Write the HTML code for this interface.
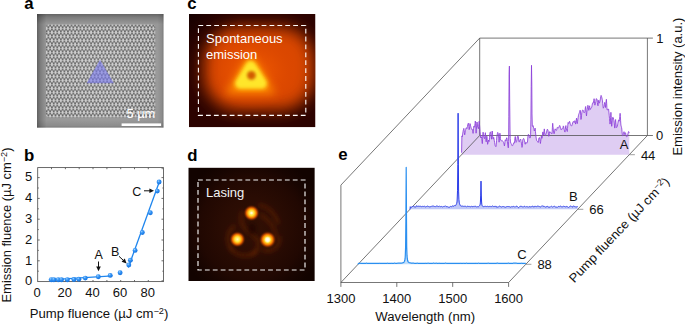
<!DOCTYPE html>
<html><head><meta charset="utf-8"><title>Figure</title>
<style>
html,body{margin:0;padding:0;background:#fff;}
svg{display:block}
text{font-family:"Liberation Sans", Arial, Helvetica, sans-serif;}
</style></head><body>
<svg width="685" height="324" viewBox="0 0 685 324">
<defs>
<pattern id="holes" x="46.6" y="25.6" width="3.56" height="8" patternUnits="userSpaceOnUse">
<rect width="3.56" height="8" fill="#cccccc"/>
<g fill="#080808">
<circle cx="0" cy="0" r="0.8"/><circle cx="3.56" cy="0" r="0.8"/><circle cx="1.78" cy="1.5" r="0.8"/>
<circle cx="1.78" cy="4" r="0.8"/><circle cx="0" cy="5.5" r="0.8"/><circle cx="3.56" cy="5.5" r="0.8"/>
<circle cx="0" cy="8" r="0.8"/><circle cx="3.56" cy="8" r="0.8"/>
</g>
</pattern>
<linearGradient id="semH" x1="0" x2="1" y1="0" y2="0">
<stop offset="0" stop-color="#000" stop-opacity="0.36"/><stop offset="0.025" stop-color="#000" stop-opacity="0.2"/>
<stop offset="0.075" stop-color="#000" stop-opacity="0"/><stop offset="0.95" stop-color="#000" stop-opacity="0"/>
<stop offset="0.985" stop-color="#000" stop-opacity="0.08"/><stop offset="1" stop-color="#000" stop-opacity="0.22"/>
</linearGradient>
<linearGradient id="semV" x1="0" x2="0" y1="0" y2="1">
<stop offset="0" stop-color="#000" stop-opacity="0.34"/><stop offset="0.03" stop-color="#000" stop-opacity="0.18"/>
<stop offset="0.09" stop-color="#000" stop-opacity="0"/><stop offset="0.93" stop-color="#000" stop-opacity="0"/>
<stop offset="0.98" stop-color="#000" stop-opacity="0.08"/><stop offset="1" stop-color="#000" stop-opacity="0.2"/>
</linearGradient>
<radialGradient id="semC" cx="0.5" cy="0.5" r="0.6">
<stop offset="0" stop-color="#fff" stop-opacity="0.08"/><stop offset="1" stop-color="#fff" stop-opacity="0"/>
</radialGradient>
<filter id="b05" x="-10%" y="-10%" width="120%" height="120%"><feGaussianBlur stdDeviation="0.3"/></filter>
<filter id="b1" x="-30%" y="-30%" width="160%" height="160%"><feGaussianBlur stdDeviation="1.2"/></filter>
<filter id="b15" x="-50%" y="-50%" width="200%" height="200%"><feGaussianBlur stdDeviation="1.6"/></filter>
<filter id="bc8" filterUnits="userSpaceOnUse" x="160" y="-10" width="190" height="170"><feGaussianBlur stdDeviation="8"/></filter>
<radialGradient id="heatC2"><stop offset="0" stop-color="#ff6a00" stop-opacity="0.75"/><stop offset="0.5" stop-color="#f05800" stop-opacity="0.4"/><stop offset="1" stop-color="#e04800" stop-opacity="0"/></radialGradient>
<filter id="b2" x="-50%" y="-50%" width="200%" height="200%"><feGaussianBlur stdDeviation="2.2"/></filter>
<filter id="b4" x="-50%" y="-50%" width="200%" height="200%"><feGaussianBlur stdDeviation="4.5"/></filter>
<filter id="b8" x="-50%" y="-50%" width="200%" height="200%"><feGaussianBlur stdDeviation="9"/></filter>
<radialGradient id="heatC" gradientUnits="userSpaceOnUse" cx="252" cy="76" r="80" gradientTransform="translate(252 76) scale(1 0.88) translate(-252 -76)">
<stop offset="0" stop-color="#f86000"/><stop offset="0.22" stop-color="#e64a00"/><stop offset="0.45" stop-color="#c43200"/>
<stop offset="0.65" stop-color="#981c00"/><stop offset="0.82" stop-color="#5e0c00"/><stop offset="1" stop-color="#2a0300"/>
</radialGradient>
<linearGradient id="heatCtl" gradientUnits="userSpaceOnUse" x1="189" y1="14" x2="220" y2="42">
<stop offset="0" stop-color="#100000" stop-opacity="0.8"/><stop offset="0.5" stop-color="#100000" stop-opacity="0.2"/><stop offset="1" stop-color="#100000" stop-opacity="0"/>
</linearGradient>
<radialGradient id="heatD" gradientUnits="userSpaceOnUse" cx="252" cy="228" r="74">
<stop offset="0" stop-color="#321004"/><stop offset="0.4" stop-color="#2a0c03"/><stop offset="0.7" stop-color="#210802"/><stop offset="0.85" stop-color="#180501"/><stop offset="1" stop-color="#120300"/>
</radialGradient>
<radialGradient id="spot">
<stop offset="0" stop-color="#fffab8"/><stop offset="0.3" stop-color="#ffe23c"/><stop offset="0.44" stop-color="#ffac10"/>
<stop offset="0.58" stop-color="#e86c00"/><stop offset="0.72" stop-color="#a83c00" stop-opacity="0.8"/><stop offset="0.87" stop-color="#5a1c00" stop-opacity="0.4"/><stop offset="1" stop-color="#3a1000" stop-opacity="0"/>
</radialGradient>
<radialGradient id="spotw">
<stop offset="0" stop-color="#ffffff"/><stop offset="0.5" stop-color="#fffbd0"/><stop offset="1" stop-color="#fff0a0" stop-opacity="0"/>
</radialGradient>
<radialGradient id="ball" cx="0.38" cy="0.32" r="0.7">
<stop offset="0" stop-color="#9fd0ff"/><stop offset="0.35" stop-color="#3a98f5"/><stop offset="1" stop-color="#0f6fe0"/>
</radialGradient>
<clipPath id="clipA"><rect x="37" y="14" width="126.7" height="113.8"/></clipPath>
<clipPath id="clipC"><rect x="189" y="14" width="126.5" height="113.3"/></clipPath>
<clipPath id="clipD"><rect x="188.3" y="167.6" width="126.5" height="113.4"/></clipPath>
</defs>
<rect width="685" height="324" fill="#fff"/>

<text x="24.3" y="8.9" font-size="16.8" font-weight="bold" fill="#000">a</text>
<text x="187.2" y="8.8" font-size="16.8" font-weight="bold" fill="#000">c</text>
<text x="24.0" y="161.0" font-size="16.8" font-weight="bold" fill="#000">b</text>
<text x="187.2" y="160.9" font-size="16.8" font-weight="bold" fill="#000">d</text>
<text x="338.3" y="159.5" font-size="16.8" font-weight="bold" fill="#000">e</text>
<g clip-path="url(#clipA)">
<rect x="37" y="14" width="126.7" height="113.8" fill="#989898"/>
<rect x="46.0" y="24.4" width="109.2" height="92.8" rx="3" fill="url(#holes)" filter="url(#b05)"/>
<polygon points="100,59.7 86.6,83.3 113.9,83.3" fill="#6c6cf2" fill-opacity="0.58"/>
<rect x="37" y="14" width="126.7" height="113.8" fill="url(#semC)"/>
<rect x="37" y="14" width="126.7" height="113.8" fill="url(#semH)"/>
<rect x="37" y="14" width="126.7" height="113.8" fill="url(#semV)"/>
<rect x="121.6" y="123.4" width="39.5" height="2.6" fill="#fff"/>
<text x="126.4" y="117.9" font-size="13.2" fill="#fff" textLength="29" lengthAdjust="spacingAndGlyphs">5 µm</text>
</g>
<g clip-path="url(#clipC)">
<rect x="189" y="14" width="126.5" height="113.3" fill="#2c0300"/>
<rect x="204" y="27" width="110" height="83" rx="34" fill="#da4600" filter="url(#bc8)"/>
<ellipse cx="252" cy="72" rx="46" ry="38" fill="url(#heatC2)"/>
<rect x="189" y="14" width="126.5" height="113.3" fill="url(#heatCtl)"/>
<polygon points="250.5,53 225,94 276,94" fill="#ff8a00" filter="url(#b4)" opacity="0.9"/>
<polygon points="250.7,66 240.3,83.6 261.7,83.6" fill="#ffd21a" stroke="#ffd21a" stroke-width="11.5" stroke-linejoin="round" filter="url(#b2)"/>
<polygon points="250.7,66.5 240.8,83.2 261.2,83.2" fill="#ffe62c" stroke="#ffe62c" stroke-width="8" stroke-linejoin="round" filter="url(#b15)"/>
<circle cx="251.4" cy="75.3" r="4.4" fill="#d25c00" filter="url(#b15)"/>
</g>
<rect x="198.4" y="25.5" width="107.4" height="89.9" fill="none" stroke="#fff" stroke-width="1.1" stroke-dasharray="4.8 3.1"/>
<text x="206" y="42.8" font-size="13" fill="#fff">Spontaneous</text>
<text x="206" y="58.8" font-size="13" fill="#fff">emission</text>
<g clip-path="url(#clipD)">
<rect x="188.3" y="167.6" width="126.5" height="113.4" fill="url(#heatD)"/>
<g fill="none" stroke="#7a2c04" stroke-opacity="0.5" stroke-width="3.2" filter="url(#b2)">
<path d="M243,211 C237,222 246,231 254,236 C261,241 259,251 251,255"/>
<path d="M260,214 C270,221 277,230 275,238"/>
<path d="M230,247 C235,257 249,258 257,251"/>
<path d="M262,249 C271,254 281,247 279,236"/>
<path d="M235,226 C226,231 226,245 233,250"/>
<path d="M258,205 C268,206 276,214 278,224"/>
</g>
<ellipse cx="252" cy="229" rx="4" ry="6" fill="#140300" opacity="0.6" filter="url(#b2)"/>
<circle cx="251.5" cy="213.0" r="8.6" fill="url(#spot)"/>
<circle cx="237.4" cy="239.3" r="8.6" fill="url(#spot)"/>
<circle cx="267.6" cy="239.7" r="9.2" fill="url(#spot)"/>
<circle cx="267.6" cy="239.7" r="3.4" fill="url(#spotw)"/>
<circle cx="251.5" cy="213" r="1.8" fill="url(#spotw)" opacity="0.7"/>
</g>
<rect x="198" y="180" width="107" height="90" fill="none" stroke="#f4f4f4" stroke-width="1.15" stroke-dasharray="4.8 3.1"/>
<text x="206" y="196.5" font-size="13" fill="#f2f2f2">Lasing</text>
<g stroke="#505050" stroke-width="0.85" fill="none">
<rect x="37.7" y="167.6" width="125.8" height="114.0"/>
<path d="M51.5,281.6v-1.6M51.5,167.6v1.6"/>
<path d="M65.4,281.6v-1.6M65.4,167.6v1.6"/>
<path d="M79.2,281.6v-1.6M79.2,167.6v1.6"/>
<path d="M93.0,281.6v-1.6M93.0,167.6v1.6"/>
<path d="M106.9,281.6v-1.6M106.9,167.6v1.6"/>
<path d="M120.7,281.6v-1.6M120.7,167.6v1.6"/>
<path d="M134.5,281.6v-1.6M134.5,167.6v1.6"/>
<path d="M148.3,281.6v-1.6M148.3,167.6v1.6"/>
<path d="M162.2,281.6v-1.6M162.2,167.6v1.6"/>
<path d="M37.7,271.2h1.1M163.5,271.2h-1.1"/>
<path d="M37.7,260.8h2.0M163.5,260.8h-2.0"/>
<path d="M37.7,250.4h1.1M163.5,250.4h-1.1"/>
<path d="M37.7,240.0h2.0M163.5,240.0h-2.0"/>
<path d="M37.7,229.6h1.1M163.5,229.6h-1.1"/>
<path d="M37.7,219.2h2.0M163.5,219.2h-2.0"/>
<path d="M37.7,208.8h1.1M163.5,208.8h-1.1"/>
<path d="M37.7,198.4h2.0M163.5,198.4h-2.0"/>
<path d="M37.7,188.0h1.1M163.5,188.0h-1.1"/>
<path d="M37.7,177.6h2.0M163.5,177.6h-2.0"/>
</g>
<text x="32.3" y="285.4" font-size="13" text-anchor="end" fill="#111">0</text>
<text x="32.3" y="264.6" font-size="13" text-anchor="end" fill="#111">1</text>
<text x="32.3" y="243.8" font-size="13" text-anchor="end" fill="#111">2</text>
<text x="32.3" y="223.0" font-size="13" text-anchor="end" fill="#111">3</text>
<text x="32.3" y="202.2" font-size="13" text-anchor="end" fill="#111">4</text>
<text x="32.3" y="181.4" font-size="13" text-anchor="end" fill="#111">5</text>
<text x="37.1" y="297.4" font-size="13" text-anchor="middle" fill="#111">0</text>
<text x="64.8" y="297.4" font-size="13" text-anchor="middle" fill="#111">20</text>
<text x="92.4" y="297.4" font-size="13" text-anchor="middle" fill="#111">40</text>
<text x="120.1" y="297.4" font-size="13" text-anchor="middle" fill="#111">60</text>
<text x="147.7" y="297.4" font-size="13" text-anchor="middle" fill="#111">80</text>
<text x="29.8" y="318.1" font-size="12.5" fill="#111" textLength="138.6" lengthAdjust="spacingAndGlyphs">Pump fluence (µJ cm<tspan dy="-4.2" font-size="8.8">−2</tspan><tspan dy="4.2">)</tspan></text>
<text transform="translate(11.0,302.5) rotate(-90)" font-size="12.5" fill="#111" textLength="155" lengthAdjust="spacingAndGlyphs">Emission fluence (µJ cm<tspan dy="-4.2" font-size="8.8">−2</tspan><tspan dy="4.2">)</tspan></text>
<path d="M48.8,279.9L112.4,275.8" stroke="#1f86ee" stroke-width="1.3" fill="none"/>
<path d="M128.3,267.5L159.7,180.7" stroke="#1f86ee" stroke-width="1.3" fill="none"/>
<circle cx="51.3" cy="279.7" r="2.45" fill="url(#ball)"/>
<circle cx="53.9" cy="279.7" r="2.45" fill="url(#ball)"/>
<circle cx="58.2" cy="279.7" r="2.45" fill="url(#ball)"/>
<circle cx="61.5" cy="279.7" r="2.45" fill="url(#ball)"/>
<circle cx="67.4" cy="279.7" r="2.45" fill="url(#ball)"/>
<circle cx="73.9" cy="279.5" r="2.45" fill="url(#ball)"/>
<circle cx="78.8" cy="279.3" r="2.45" fill="url(#ball)"/>
<circle cx="85.3" cy="278.1" r="2.45" fill="url(#ball)"/>
<circle cx="98.3" cy="276.8" r="2.45" fill="url(#ball)"/>
<circle cx="110.2" cy="275.4" r="2.45" fill="url(#ball)"/>
<circle cx="120.1" cy="272.7" r="2.45" fill="url(#ball)"/>
<circle cx="128.8" cy="265.0" r="2.45" fill="url(#ball)"/>
<circle cx="130.4" cy="260.2" r="2.45" fill="url(#ball)"/>
<circle cx="135.1" cy="250.4" r="2.45" fill="url(#ball)"/>
<circle cx="142.3" cy="232.5" r="2.45" fill="url(#ball)"/>
<circle cx="150.3" cy="212.8" r="2.45" fill="url(#ball)"/>
<circle cx="157.3" cy="191.1" r="2.45" fill="url(#ball)"/>
<circle cx="159.1" cy="182.0" r="2.45" fill="url(#ball)"/>
<text x="132.3" y="195.6" font-size="12.5" fill="#111">C</text>
<path d="M144,190.8H150.5" stroke="#111" stroke-width="1" fill="none"/><path d="M154,190.8l-4.6,-2.3v4.6z" fill="#111"/>
<text x="94.4" y="259.4" font-size="12.5" fill="#111">A</text>
<path d="M98.5,261.5V267.5" stroke="#111" stroke-width="1" fill="none"/><path d="M98.5,271.2l-2.3,-4.6h4.6z" fill="#111"/>
<text x="111" y="256" font-size="12.5" fill="#111">B</text>
<path d="M119,256.3L123.3,260.3" stroke="#111" stroke-width="1" fill="none"/><path d="M126.6,263.4l-5,-1.6l3.2,-3.4z" fill="#111"/>
<polygon points="461.6,154.7 461.6,152.7 461.9,135.9 462.2,136.8 462.4,136.5 462.7,134.0 463.0,131.7 463.3,130.2 463.6,129.3 463.8,128.4 464.1,130.1 464.4,132.6 464.7,134.8 465.0,133.4 465.2,131.9 465.5,130.5 465.8,129.2 466.1,128.0 466.4,127.7 466.6,128.2 466.9,128.7 467.2,127.7 467.5,126.3 467.7,124.9 468.0,124.0 468.3,123.1 468.6,123.5 468.9,126.6 469.1,129.7 469.4,129.2 469.7,126.4 470.0,123.6 470.3,124.3 470.5,125.5 470.8,126.7 471.1,127.7 471.4,128.7 471.7,129.3 471.9,129.2 472.2,129.2 472.5,130.2 472.8,131.8 473.1,133.4 473.3,131.0 473.6,128.3 473.9,126.1 474.2,126.6 474.5,127.2 474.7,126.4 475.0,123.8 475.3,121.1 475.6,123.6 475.9,128.4 476.1,133.2 476.4,129.4 476.7,125.1 477.0,122.0 477.3,124.0 477.5,126.0 477.8,127.4 478.1,128.1 478.4,128.8 478.6,126.6 478.9,123.7 479.2,121.2 479.5,124.7 479.8,128.3 480.0,131.6 480.3,134.3 480.6,137.0 480.9,138.0 481.2,137.3 481.4,136.7 481.7,138.5 482.0,141.2 482.3,143.6 482.6,139.2 482.8,134.8 483.1,132.2 483.4,134.3 483.7,136.3 484.0,137.5 484.2,138.1 484.5,138.7 484.8,137.0 485.1,134.6 485.4,132.7 485.6,136.5 485.9,140.2 486.2,141.8 486.5,139.0 486.8,136.1 487.0,137.1 487.3,140.7 487.6,144.3 487.9,143.3 488.2,141.5 488.4,140.0 488.7,140.9 489.0,141.7 489.3,140.9 489.5,137.4 489.8,133.9 490.1,132.4 490.4,132.1 490.7,131.8 490.9,134.3 491.2,137.3 491.5,139.2 491.8,135.4 492.1,131.7 492.3,131.0 492.6,134.8 492.9,138.5 493.2,139.1 493.5,138.2 493.7,137.3 494.0,138.9 494.3,140.8 494.6,142.6 494.9,144.0 495.1,145.4 495.4,146.2 495.7,146.5 496.0,146.7 496.3,144.2 496.5,140.6 496.8,137.0 497.1,135.3 497.4,133.6 497.7,132.4 497.9,132.9 498.2,133.4 498.5,135.3 498.8,138.8 499.1,142.2 499.3,140.3 499.6,136.7 499.9,133.2 500.2,135.8 500.5,138.4 500.7,140.3 501.0,140.5 501.3,140.7 501.6,140.7 501.8,140.5 502.1,140.3 502.4,140.7 502.7,141.2 503.0,141.7 503.2,142.0 503.5,142.2 503.8,142.9 504.1,144.4 504.4,145.9 504.6,145.1 504.9,142.5 505.2,139.8 505.5,139.9 505.8,140.4 506.0,140.8 506.3,139.3 506.6,137.9 506.9,137.7 507.2,139.8 507.4,141.9 507.7,144.0 508.0,146.1 508.3,147.8 508.6,141.5 508.8,116.8 509.1,74.3 509.4,66.1 509.7,101.9 510.0,129.0 510.2,138.4 510.5,141.9 510.8,143.1 511.1,143.5 511.4,143.9 511.6,144.6 511.9,145.3 512.2,145.9 512.5,145.7 512.7,145.5 513.0,144.9 513.3,143.9 513.6,142.9 513.9,142.8 514.1,142.9 514.4,143.1 514.7,140.6 515.0,138.0 515.3,136.5 515.5,139.0 515.8,141.4 516.1,142.4 516.4,141.9 516.7,141.3 516.9,139.9 517.2,138.1 517.5,136.3 517.8,136.2 518.1,136.1 518.3,136.7 518.6,139.0 518.9,141.3 519.2,142.1 519.5,141.4 519.7,140.6 520.0,140.0 520.3,139.5 520.6,139.0 520.9,140.3 521.1,141.6 521.4,143.1 521.7,145.2 522.0,147.4 522.3,146.5 522.5,143.2 522.8,139.9 523.1,139.1 523.4,138.7 523.6,138.4 523.9,139.0 524.2,139.6 524.5,140.6 524.8,142.4 525.0,144.1 525.3,144.2 525.6,143.2 525.9,142.2 526.2,142.5 526.4,142.9 526.7,143.3 527.0,142.9 527.3,142.4 527.6,141.0 527.8,138.0 528.1,135.1 528.4,134.3 528.7,134.7 529.0,135.1 529.2,136.1 529.5,137.2 529.8,138.1 530.1,138.0 530.4,137.5 530.6,134.2 530.9,119.1 531.2,86.5 531.5,65.3 531.8,84.1 532.0,113.9 532.3,125.6 532.6,126.4 532.9,125.5 533.2,125.8 533.4,127.1 533.7,128.4 534.0,129.5 534.3,131.0 534.5,130.7 534.8,129.6 535.1,128.1 535.4,131.2 535.7,133.9 535.9,136.2 536.2,138.1 536.5,139.9 536.8,140.8 537.1,141.0 537.3,141.2 537.6,141.6 537.9,142.1 538.2,142.5 538.5,140.8 538.7,139.1 539.0,137.8 539.3,137.7 539.6,137.7 539.9,139.0 540.1,141.2 540.4,143.5 540.7,141.6 541.0,138.7 541.3,136.1 541.5,137.3 541.8,138.4 542.1,138.2 542.4,135.3 542.7,132.3 542.9,131.9 543.2,133.4 543.5,134.8 543.8,133.1 544.1,130.7 544.3,128.9 544.6,131.5 544.9,134.2 545.2,135.7 545.5,135.2 545.7,134.7 546.0,133.9 546.3,133.0 546.6,132.1 546.8,131.0 547.1,129.9 547.4,129.1 547.7,129.7 548.0,130.3 548.2,131.6 548.5,133.9 548.8,136.3 549.1,135.7 549.4,133.7 549.6,131.7 549.9,131.7 550.2,131.9 550.5,132.1 550.8,132.6 551.0,133.1 551.3,133.5 551.6,133.7 551.9,134.0 552.2,131.2 552.4,127.3 552.7,123.3 553.0,126.6 553.3,130.0 553.6,132.8 553.8,133.3 554.1,133.8 554.4,133.1 554.7,131.0 555.0,128.9 555.2,128.9 555.5,129.5 555.8,130.1 556.1,130.3 556.4,130.5 556.6,130.3 556.9,129.0 557.2,127.7 557.5,127.2 557.7,127.5 558.0,127.7 558.3,127.8 558.6,127.8 558.9,127.7 559.1,126.8 559.4,125.8 559.7,125.4 560.0,126.1 560.3,126.9 560.5,127.8 560.8,128.9 561.1,129.9 561.4,129.7 561.7,129.2 561.9,128.7 562.2,128.8 562.5,128.9 562.8,128.4 563.1,127.1 563.3,125.9 563.6,126.4 563.9,128.2 564.2,129.9 564.5,130.8 564.7,131.7 565.0,132.1 565.3,129.3 565.6,126.6 565.9,125.6 566.1,127.4 566.4,129.1 566.7,130.2 567.0,130.9 567.3,131.5 567.5,128.5 567.8,125.2 568.1,122.5 568.4,122.9 568.6,123.4 568.9,123.2 569.2,122.2 569.5,121.3 569.8,121.8 570.0,123.0 570.3,124.2 570.6,124.8 570.9,125.5 571.2,125.9 571.4,125.9 571.7,125.9 572.0,125.3 572.3,124.1 572.6,123.0 572.8,122.3 573.1,121.8 573.4,121.3 573.7,121.8 574.0,122.4 574.2,122.6 574.5,121.6 574.8,120.7 575.1,121.1 575.4,122.6 575.6,124.1 575.9,122.6 576.2,120.3 576.5,118.2 576.8,120.5 577.0,122.8 577.3,123.6 577.6,121.3 577.9,119.0 578.2,117.2 578.4,115.8 578.7,114.4 579.0,113.6 579.3,112.9 579.5,112.2 579.8,111.2 580.1,110.2 580.4,111.0 580.7,115.2 580.9,119.5 581.2,119.2 581.5,115.9 581.8,112.6 582.1,111.5 582.3,110.7 582.6,110.0 582.9,110.2 583.2,110.3 583.5,110.8 583.7,111.8 584.0,112.8 584.3,112.7 584.6,112.2 584.9,111.6 585.1,109.7 585.4,107.5 585.7,106.5 586.0,110.7 586.3,114.8 586.5,115.9 586.8,112.8 587.1,109.7 587.4,107.9 587.7,106.6 587.9,105.3 588.2,107.2 588.5,109.2 588.8,110.4 589.1,108.3 589.3,106.1 589.6,105.8 589.9,107.6 590.2,109.5 590.4,109.4 590.7,108.7 591.0,108.0 591.3,107.7 591.6,107.5 591.8,106.9 592.1,105.3 592.4,103.7 592.7,102.9 593.0,103.1 593.2,103.2 593.5,102.0 593.8,100.3 594.1,98.7 594.4,101.1 594.6,103.7 594.9,105.2 595.2,104.0 595.5,102.9 595.8,101.6 596.0,100.1 596.3,98.6 596.6,98.8 596.9,99.3 597.2,99.9 597.4,102.5 597.7,105.0 598.0,105.8 598.3,103.1 598.6,100.4 598.8,100.2 599.1,101.7 599.4,103.2 599.7,102.4 600.0,101.2 600.2,100.0 600.5,98.1 600.8,96.3 601.1,95.4 601.4,96.1 601.6,96.7 601.9,97.9 602.2,99.3 602.5,100.8 602.7,103.3 603.0,106.0 603.3,108.2 603.6,107.5 603.9,107.1 604.1,106.4 604.4,104.4 604.7,102.4 605.0,103.2 605.3,105.3 605.5,107.5 605.8,104.6 606.1,101.2 606.4,99.3 606.7,103.6 606.9,107.7 607.2,110.0 607.5,109.8 607.8,109.6 608.1,109.4 608.3,109.2 608.6,109.0 608.9,112.1 609.2,115.2 609.5,118.3 609.7,121.3 610.0,124.1 610.3,122.9 610.6,117.6 610.9,112.3 611.1,115.2 611.4,120.8 611.7,126.3 612.0,123.2 612.3,120.0 612.5,117.6 612.8,117.5 613.1,117.3 613.4,118.0 613.6,119.3 613.9,120.6 614.2,123.1 614.5,125.8 614.8,128.1 615.0,124.5 615.3,120.9 615.6,119.5 615.9,122.8 616.2,126.2 616.4,127.5 616.7,127.4 617.0,127.3 617.3,126.2 617.6,124.9 617.8,123.6 618.1,122.1 618.4,120.6 618.7,119.8 619.0,120.5 619.2,121.2 619.5,119.6 619.8,116.4 620.1,113.3 620.4,116.6 620.6,120.8 620.9,125.1 621.2,126.2 621.5,127.3 621.8,129.0 622.0,131.8 622.3,134.5 622.6,135.7 622.9,135.7 623.2,134.7 623.4,133.5 623.7,132.4 624.0,131.7 624.3,133.0 624.5,134.3 624.8,134.6 625.1,133.6 625.4,132.7 625.7,133.4 625.9,134.9 626.2,136.4 626.5,136.6 626.8,136.7 627.1,136.6 627.3,135.9 627.6,135.1 627.9,134.1 628.2,132.9 628.5,131.6 628.7,131.6 629.0,132.2 629.3,132.8 629.3,154.7" fill="#d9c4f1" fill-opacity="0.85"/>
<line x1="479.7" y1="38.1" x2="647.4" y2="38.1" stroke="#4a4a4a" stroke-width="0.75"/>
<line x1="479.7" y1="38.1" x2="479.7" y2="135.5" stroke="#4a4a4a" stroke-width="0.75"/>
<line x1="479.7" y1="135.5" x2="647.4" y2="135.5" stroke="#4a4a4a" stroke-width="0.75"/>
<line x1="647.4" y1="38.1" x2="647.4" y2="135.5" stroke="#4a4a4a" stroke-width="0.75"/>
<line x1="340.9" y1="185.1" x2="479.7" y2="38.1" stroke="#4a4a4a" stroke-width="0.75"/>
<line x1="340.9" y1="185.1" x2="340.9" y2="282.5" stroke="#4a4a4a" stroke-width="0.75"/>
<line x1="340.9" y1="282.5" x2="479.7" y2="135.5" stroke="#4a4a4a" stroke-width="0.75"/>
<line x1="340.9" y1="282.5" x2="508.6" y2="282.5" stroke="#4a4a4a" stroke-width="0.75"/>
<line x1="508.6" y1="282.5" x2="647.4" y2="135.5" stroke="#4a4a4a" stroke-width="0.75"/>
<line x1="340.9" y1="282.5" x2="340.9" y2="286.9" stroke="#4a4a4a" stroke-width="0.75"/>
<text x="340.9" y="302.9" font-size="13" text-anchor="middle" fill="#111">1300</text>
<line x1="396.8" y1="282.5" x2="396.8" y2="286.9" stroke="#4a4a4a" stroke-width="0.75"/>
<text x="396.8" y="302.9" font-size="13" text-anchor="middle" fill="#111">1400</text>
<line x1="452.7" y1="282.5" x2="452.7" y2="286.9" stroke="#4a4a4a" stroke-width="0.75"/>
<text x="452.7" y="302.9" font-size="13" text-anchor="middle" fill="#111">1500</text>
<line x1="508.6" y1="282.5" x2="508.6" y2="286.9" stroke="#4a4a4a" stroke-width="0.75"/>
<text x="508.6" y="302.9" font-size="13" text-anchor="middle" fill="#111">1600</text>
<text x="375.3" y="320.9" font-size="12.5" fill="#111" textLength="99.8" lengthAdjust="spacingAndGlyphs">Wavelength (nm)</text>
<line x1="647.4" y1="38.1" x2="652.9" y2="38.1" stroke="#4a4a4a" stroke-width="0.75"/>
<line x1="647.4" y1="135.5" x2="652.9" y2="135.5" stroke="#4a4a4a" stroke-width="0.75"/>
<text x="656.2" y="42.7" font-size="13" fill="#111">1</text>
<text x="656.0" y="140.1" font-size="13" fill="#111">0</text>
<text transform="translate(681.9,155.6) rotate(-90)" font-size="12.5" fill="#111" textLength="138" lengthAdjust="spacingAndGlyphs">Emission intensity (a.u.)</text>
<polyline points="461.6,152.7 461.9,135.9 462.2,136.8 462.4,136.5 462.7,134.0 463.0,131.7 463.3,130.2 463.6,129.3 463.8,128.4 464.1,130.1 464.4,132.6 464.7,134.8 465.0,133.4 465.2,131.9 465.5,130.5 465.8,129.2 466.1,128.0 466.4,127.7 466.6,128.2 466.9,128.7 467.2,127.7 467.5,126.3 467.7,124.9 468.0,124.0 468.3,123.1 468.6,123.5 468.9,126.6 469.1,129.7 469.4,129.2 469.7,126.4 470.0,123.6 470.3,124.3 470.5,125.5 470.8,126.7 471.1,127.7 471.4,128.7 471.7,129.3 471.9,129.2 472.2,129.2 472.5,130.2 472.8,131.8 473.1,133.4 473.3,131.0 473.6,128.3 473.9,126.1 474.2,126.6 474.5,127.2 474.7,126.4 475.0,123.8 475.3,121.1 475.6,123.6 475.9,128.4 476.1,133.2 476.4,129.4 476.7,125.1 477.0,122.0 477.3,124.0 477.5,126.0 477.8,127.4 478.1,128.1 478.4,128.8 478.6,126.6 478.9,123.7 479.2,121.2 479.5,124.7 479.8,128.3 480.0,131.6 480.3,134.3 480.6,137.0 480.9,138.0 481.2,137.3 481.4,136.7 481.7,138.5 482.0,141.2 482.3,143.6 482.6,139.2 482.8,134.8 483.1,132.2 483.4,134.3 483.7,136.3 484.0,137.5 484.2,138.1 484.5,138.7 484.8,137.0 485.1,134.6 485.4,132.7 485.6,136.5 485.9,140.2 486.2,141.8 486.5,139.0 486.8,136.1 487.0,137.1 487.3,140.7 487.6,144.3 487.9,143.3 488.2,141.5 488.4,140.0 488.7,140.9 489.0,141.7 489.3,140.9 489.5,137.4 489.8,133.9 490.1,132.4 490.4,132.1 490.7,131.8 490.9,134.3 491.2,137.3 491.5,139.2 491.8,135.4 492.1,131.7 492.3,131.0 492.6,134.8 492.9,138.5 493.2,139.1 493.5,138.2 493.7,137.3 494.0,138.9 494.3,140.8 494.6,142.6 494.9,144.0 495.1,145.4 495.4,146.2 495.7,146.5 496.0,146.7 496.3,144.2 496.5,140.6 496.8,137.0 497.1,135.3 497.4,133.6 497.7,132.4 497.9,132.9 498.2,133.4 498.5,135.3 498.8,138.8 499.1,142.2 499.3,140.3 499.6,136.7 499.9,133.2 500.2,135.8 500.5,138.4 500.7,140.3 501.0,140.5 501.3,140.7 501.6,140.7 501.8,140.5 502.1,140.3 502.4,140.7 502.7,141.2 503.0,141.7 503.2,142.0 503.5,142.2 503.8,142.9 504.1,144.4 504.4,145.9 504.6,145.1 504.9,142.5 505.2,139.8 505.5,139.9 505.8,140.4 506.0,140.8 506.3,139.3 506.6,137.9 506.9,137.7 507.2,139.8 507.4,141.9 507.7,144.0 508.0,146.1 508.3,147.8 508.6,141.5 508.8,116.8 509.1,74.3 509.4,66.1 509.7,101.9 510.0,129.0 510.2,138.4 510.5,141.9 510.8,143.1 511.1,143.5 511.4,143.9 511.6,144.6 511.9,145.3 512.2,145.9 512.5,145.7 512.7,145.5 513.0,144.9 513.3,143.9 513.6,142.9 513.9,142.8 514.1,142.9 514.4,143.1 514.7,140.6 515.0,138.0 515.3,136.5 515.5,139.0 515.8,141.4 516.1,142.4 516.4,141.9 516.7,141.3 516.9,139.9 517.2,138.1 517.5,136.3 517.8,136.2 518.1,136.1 518.3,136.7 518.6,139.0 518.9,141.3 519.2,142.1 519.5,141.4 519.7,140.6 520.0,140.0 520.3,139.5 520.6,139.0 520.9,140.3 521.1,141.6 521.4,143.1 521.7,145.2 522.0,147.4 522.3,146.5 522.5,143.2 522.8,139.9 523.1,139.1 523.4,138.7 523.6,138.4 523.9,139.0 524.2,139.6 524.5,140.6 524.8,142.4 525.0,144.1 525.3,144.2 525.6,143.2 525.9,142.2 526.2,142.5 526.4,142.9 526.7,143.3 527.0,142.9 527.3,142.4 527.6,141.0 527.8,138.0 528.1,135.1 528.4,134.3 528.7,134.7 529.0,135.1 529.2,136.1 529.5,137.2 529.8,138.1 530.1,138.0 530.4,137.5 530.6,134.2 530.9,119.1 531.2,86.5 531.5,65.3 531.8,84.1 532.0,113.9 532.3,125.6 532.6,126.4 532.9,125.5 533.2,125.8 533.4,127.1 533.7,128.4 534.0,129.5 534.3,131.0 534.5,130.7 534.8,129.6 535.1,128.1 535.4,131.2 535.7,133.9 535.9,136.2 536.2,138.1 536.5,139.9 536.8,140.8 537.1,141.0 537.3,141.2 537.6,141.6 537.9,142.1 538.2,142.5 538.5,140.8 538.7,139.1 539.0,137.8 539.3,137.7 539.6,137.7 539.9,139.0 540.1,141.2 540.4,143.5 540.7,141.6 541.0,138.7 541.3,136.1 541.5,137.3 541.8,138.4 542.1,138.2 542.4,135.3 542.7,132.3 542.9,131.9 543.2,133.4 543.5,134.8 543.8,133.1 544.1,130.7 544.3,128.9 544.6,131.5 544.9,134.2 545.2,135.7 545.5,135.2 545.7,134.7 546.0,133.9 546.3,133.0 546.6,132.1 546.8,131.0 547.1,129.9 547.4,129.1 547.7,129.7 548.0,130.3 548.2,131.6 548.5,133.9 548.8,136.3 549.1,135.7 549.4,133.7 549.6,131.7 549.9,131.7 550.2,131.9 550.5,132.1 550.8,132.6 551.0,133.1 551.3,133.5 551.6,133.7 551.9,134.0 552.2,131.2 552.4,127.3 552.7,123.3 553.0,126.6 553.3,130.0 553.6,132.8 553.8,133.3 554.1,133.8 554.4,133.1 554.7,131.0 555.0,128.9 555.2,128.9 555.5,129.5 555.8,130.1 556.1,130.3 556.4,130.5 556.6,130.3 556.9,129.0 557.2,127.7 557.5,127.2 557.7,127.5 558.0,127.7 558.3,127.8 558.6,127.8 558.9,127.7 559.1,126.8 559.4,125.8 559.7,125.4 560.0,126.1 560.3,126.9 560.5,127.8 560.8,128.9 561.1,129.9 561.4,129.7 561.7,129.2 561.9,128.7 562.2,128.8 562.5,128.9 562.8,128.4 563.1,127.1 563.3,125.9 563.6,126.4 563.9,128.2 564.2,129.9 564.5,130.8 564.7,131.7 565.0,132.1 565.3,129.3 565.6,126.6 565.9,125.6 566.1,127.4 566.4,129.1 566.7,130.2 567.0,130.9 567.3,131.5 567.5,128.5 567.8,125.2 568.1,122.5 568.4,122.9 568.6,123.4 568.9,123.2 569.2,122.2 569.5,121.3 569.8,121.8 570.0,123.0 570.3,124.2 570.6,124.8 570.9,125.5 571.2,125.9 571.4,125.9 571.7,125.9 572.0,125.3 572.3,124.1 572.6,123.0 572.8,122.3 573.1,121.8 573.4,121.3 573.7,121.8 574.0,122.4 574.2,122.6 574.5,121.6 574.8,120.7 575.1,121.1 575.4,122.6 575.6,124.1 575.9,122.6 576.2,120.3 576.5,118.2 576.8,120.5 577.0,122.8 577.3,123.6 577.6,121.3 577.9,119.0 578.2,117.2 578.4,115.8 578.7,114.4 579.0,113.6 579.3,112.9 579.5,112.2 579.8,111.2 580.1,110.2 580.4,111.0 580.7,115.2 580.9,119.5 581.2,119.2 581.5,115.9 581.8,112.6 582.1,111.5 582.3,110.7 582.6,110.0 582.9,110.2 583.2,110.3 583.5,110.8 583.7,111.8 584.0,112.8 584.3,112.7 584.6,112.2 584.9,111.6 585.1,109.7 585.4,107.5 585.7,106.5 586.0,110.7 586.3,114.8 586.5,115.9 586.8,112.8 587.1,109.7 587.4,107.9 587.7,106.6 587.9,105.3 588.2,107.2 588.5,109.2 588.8,110.4 589.1,108.3 589.3,106.1 589.6,105.8 589.9,107.6 590.2,109.5 590.4,109.4 590.7,108.7 591.0,108.0 591.3,107.7 591.6,107.5 591.8,106.9 592.1,105.3 592.4,103.7 592.7,102.9 593.0,103.1 593.2,103.2 593.5,102.0 593.8,100.3 594.1,98.7 594.4,101.1 594.6,103.7 594.9,105.2 595.2,104.0 595.5,102.9 595.8,101.6 596.0,100.1 596.3,98.6 596.6,98.8 596.9,99.3 597.2,99.9 597.4,102.5 597.7,105.0 598.0,105.8 598.3,103.1 598.6,100.4 598.8,100.2 599.1,101.7 599.4,103.2 599.7,102.4 600.0,101.2 600.2,100.0 600.5,98.1 600.8,96.3 601.1,95.4 601.4,96.1 601.6,96.7 601.9,97.9 602.2,99.3 602.5,100.8 602.7,103.3 603.0,106.0 603.3,108.2 603.6,107.5 603.9,107.1 604.1,106.4 604.4,104.4 604.7,102.4 605.0,103.2 605.3,105.3 605.5,107.5 605.8,104.6 606.1,101.2 606.4,99.3 606.7,103.6 606.9,107.7 607.2,110.0 607.5,109.8 607.8,109.6 608.1,109.4 608.3,109.2 608.6,109.0 608.9,112.1 609.2,115.2 609.5,118.3 609.7,121.3 610.0,124.1 610.3,122.9 610.6,117.6 610.9,112.3 611.1,115.2 611.4,120.8 611.7,126.3 612.0,123.2 612.3,120.0 612.5,117.6 612.8,117.5 613.1,117.3 613.4,118.0 613.6,119.3 613.9,120.6 614.2,123.1 614.5,125.8 614.8,128.1 615.0,124.5 615.3,120.9 615.6,119.5 615.9,122.8 616.2,126.2 616.4,127.5 616.7,127.4 617.0,127.3 617.3,126.2 617.6,124.9 617.8,123.6 618.1,122.1 618.4,120.6 618.7,119.8 619.0,120.5 619.2,121.2 619.5,119.6 619.8,116.4 620.1,113.3 620.4,116.6 620.6,120.8 620.9,125.1 621.2,126.2 621.5,127.3 621.8,129.0 622.0,131.8 622.3,134.5 622.6,135.7 622.9,135.7 623.2,134.7 623.4,133.5 623.7,132.4 624.0,131.7 624.3,133.0 624.5,134.3 624.8,134.6 625.1,133.6 625.4,132.7 625.7,133.4 625.9,134.9 626.2,136.4 626.5,136.6 626.8,136.7 627.1,136.6 627.3,135.9 627.6,135.1 627.9,134.1 628.2,132.9 628.5,131.6 628.7,131.6 629.0,132.2 629.3,132.8" fill="none" stroke="#8b3fd9" stroke-width="0.85" stroke-linejoin="round"/>
<polygon points="410.0,209.3 410.0,209.3 410.3,206.7 410.6,207.0 410.8,207.3 411.1,207.2 411.4,207.1 411.7,207.0 412.0,206.8 412.2,206.7 412.5,206.5 412.8,206.4 413.1,206.3 413.4,206.2 413.6,206.4 413.9,206.6 414.2,206.8 414.5,206.8 414.8,206.7 415.0,206.7 415.3,206.8 415.6,207.0 415.9,207.1 416.1,206.7 416.4,206.2 416.7,205.7 417.0,205.8 417.3,206.1 417.5,206.4 417.8,206.4 418.1,206.3 418.4,206.2 418.7,206.3 418.9,206.3 419.2,206.3 419.5,206.3 419.8,206.3 420.1,206.2 420.3,206.3 420.6,206.3 420.9,206.3 421.2,206.4 421.5,206.6 421.7,206.7 422.0,206.6 422.3,206.5 422.6,206.3 422.9,206.4 423.1,206.4 423.4,206.5 423.7,206.4 424.0,206.3 424.3,206.1 424.5,206.3 424.8,206.5 425.1,206.8 425.4,206.9 425.7,206.8 425.9,206.8 426.2,206.7 426.5,206.5 426.8,206.4 427.0,206.3 427.3,206.2 427.6,206.1 427.9,206.2 428.2,206.3 428.4,206.5 428.7,206.6 429.0,206.7 429.3,206.8 429.6,206.8 429.8,206.7 430.1,206.7 430.4,206.7 430.7,206.7 431.0,206.8 431.2,206.6 431.5,206.3 431.8,206.0 432.1,205.9 432.4,206.0 432.6,206.2 432.9,206.2 433.2,206.2 433.5,206.1 433.8,206.2 434.0,206.3 434.3,206.4 434.6,206.5 434.9,206.6 435.2,206.7 435.4,206.7 435.7,206.4 436.0,206.2 436.3,206.1 436.6,206.0 436.8,206.0 437.1,206.0 437.4,206.1 437.7,206.3 437.9,206.4 438.2,206.5 438.5,206.5 438.8,206.5 439.1,206.4 439.3,206.2 439.6,206.2 439.9,206.4 440.2,206.6 440.5,206.6 440.7,206.5 441.0,206.4 441.3,206.4 441.6,206.5 441.9,206.7 442.1,206.9 442.4,206.9 442.7,206.9 443.0,206.9 443.3,206.7 443.5,206.5 443.8,206.4 444.1,206.4 444.4,206.4 444.7,206.3 444.9,206.1 445.2,205.9 445.5,205.9 445.8,206.2 446.1,206.5 446.3,206.6 446.6,206.6 446.9,206.6 447.2,206.6 447.5,206.7 447.7,206.9 448.0,207.0 448.3,207.1 448.6,207.2 448.9,207.2 449.1,207.2 449.4,207.2 449.7,207.1 450.0,206.8 450.2,206.5 450.5,206.4 450.8,206.6 451.1,206.8 451.4,206.8 451.6,206.5 451.9,206.2 452.2,206.0 452.5,205.9 452.8,205.9 453.0,205.9 453.3,206.0 453.6,206.2 453.9,206.3 454.2,206.0 454.4,205.7 454.7,205.5 455.0,205.5 455.3,205.6 455.6,205.6 455.8,205.2 456.1,204.7 456.4,204.1 456.7,203.4 457.0,202.0 457.2,199.0 457.5,190.8 457.8,164.7 458.1,113.2 458.4,164.9 458.6,191.1 458.9,199.2 459.2,202.2 459.5,203.6 459.8,204.3 460.0,205.0 460.3,205.5 460.6,205.8 460.9,206.0 461.1,206.1 461.4,206.1 461.7,206.1 462.0,206.0 462.3,206.0 462.5,206.1 462.8,206.2 463.1,206.3 463.4,206.3 463.7,206.4 463.9,206.4 464.2,206.4 464.5,206.3 464.8,206.2 465.1,206.2 465.3,206.2 465.6,206.2 465.9,206.5 466.2,206.7 466.5,207.0 466.7,206.8 467.0,206.5 467.3,206.3 467.6,206.3 467.9,206.3 468.1,206.3 468.4,206.4 468.7,206.6 469.0,206.8 469.3,206.7 469.5,206.5 469.8,206.4 470.1,206.6 470.4,206.8 470.7,207.0 470.9,206.7 471.2,206.4 471.5,206.0 471.8,206.2 472.0,206.4 472.3,206.6 472.6,206.6 472.9,206.6 473.2,206.6 473.4,206.4 473.7,206.3 474.0,206.1 474.3,206.2 474.6,206.4 474.8,206.6 475.1,206.5 475.4,206.4 475.7,206.3 476.0,206.5 476.2,206.7 476.5,206.9 476.8,206.8 477.1,206.8 477.4,206.7 477.6,206.7 477.9,206.8 478.2,206.9 478.5,206.7 478.8,206.5 479.0,206.3 479.3,206.0 479.6,205.6 479.9,205.0 480.2,204.2 480.4,202.1 480.7,195.1 481.0,181.1 481.3,195.0 481.6,202.0 481.8,204.3 482.1,205.4 482.4,206.1 482.7,206.4 482.9,206.5 483.2,206.6 483.5,206.6 483.8,206.6 484.1,206.6 484.3,206.5 484.6,206.4 484.9,206.3 485.2,206.3 485.5,206.3 485.7,206.4 486.0,206.4 486.3,206.5 486.6,206.5 486.9,206.5 487.1,206.4 487.4,206.3 487.7,206.4 488.0,206.5 488.3,206.6 488.5,206.6 488.8,206.6 489.1,206.6 489.4,206.5 489.7,206.3 489.9,206.1 490.2,206.2 490.5,206.4 490.8,206.7 491.1,206.7 491.3,206.6 491.6,206.5 491.9,206.4 492.2,206.2 492.5,206.0 492.7,206.0 493.0,206.2 493.3,206.4 493.6,206.5 493.9,206.4 494.1,206.3 494.4,206.4 494.7,206.6 495.0,206.7 495.2,206.7 495.5,206.3 495.8,206.0 496.1,206.1 496.4,206.6 496.6,207.2 496.9,207.4 497.2,207.2 497.5,207.1 497.8,207.0 498.0,207.0 498.3,207.0 498.6,206.8 498.9,206.5 499.2,206.2 499.4,206.0 499.7,206.2 500.0,206.3 500.3,206.5 500.6,206.6 500.8,206.6 501.1,206.7 501.4,206.9 501.7,207.0 502.0,207.0 502.2,206.8 502.5,206.6 502.8,206.5 503.1,206.5 503.4,206.5 503.6,206.6 503.9,206.7 504.2,206.8 504.5,206.9 504.8,207.0 505.0,207.1 505.3,207.2 505.6,207.1 505.9,207.1 506.1,207.0 506.4,206.8 506.7,206.6 507.0,206.5 507.3,206.5 507.5,206.5 507.8,206.5 508.1,206.5 508.4,206.5 508.7,206.6 508.9,206.6 509.2,206.6 509.5,206.7 509.8,206.9 510.1,207.1 510.3,207.2 510.6,207.0 510.9,206.8 511.2,206.6 511.5,206.7 511.7,206.9 512.0,207.0 512.3,206.8 512.6,206.7 512.9,206.6 513.1,206.5 513.4,206.5 513.7,206.4 514.0,206.6 514.3,206.7 514.5,206.9 514.8,206.9 515.1,206.9 515.4,207.0 515.7,206.7 515.9,206.4 516.2,206.2 516.5,206.3 516.8,206.4 517.0,206.5 517.3,206.6 517.6,206.7 517.9,206.9 518.2,207.2 518.4,207.5 518.7,207.7 519.0,207.4 519.3,207.0 519.6,206.6 519.8,206.5 520.1,206.4 520.4,206.3 520.7,206.3 521.0,206.2 521.2,206.2 521.5,206.4 521.8,206.6 522.1,206.9 522.4,206.8 522.6,206.8 522.9,206.8 523.2,206.8 523.5,206.8 523.8,206.8 524.0,206.6 524.3,206.4 524.6,206.3 524.9,206.5 525.2,206.8 525.4,207.0 525.7,206.9 526.0,206.8 526.3,206.6 526.6,206.7 526.8,206.8 527.1,206.9 527.4,206.8 527.7,206.7 527.9,206.5 528.2,206.7 528.5,206.9 528.8,207.2 529.1,207.0 529.3,206.7 529.6,206.5 529.9,206.5 530.2,206.7 530.5,206.8 530.7,206.8 531.0,206.7 531.3,206.7 531.6,206.6 531.9,206.5 532.1,206.4 532.4,206.3 532.7,206.2 533.0,206.2 533.3,206.4 533.5,206.8 533.8,207.2 534.1,207.0 534.4,206.6 534.7,206.3 534.9,206.2 535.2,206.3 535.5,206.4 535.8,206.5 536.1,206.6 536.3,206.7 536.6,206.5 536.9,206.3 537.2,206.1 537.5,206.2 537.7,206.3 538.0,206.5 538.3,206.4 538.6,206.3 538.8,206.1 539.1,206.3 539.4,206.5 539.7,206.7 540.0,206.8 540.2,206.9 540.5,206.9 540.8,206.7 541.1,206.5 541.4,206.2 541.6,206.0 541.9,205.9 542.2,205.8 542.5,205.9 542.8,206.1 543.0,206.3 543.3,206.3 543.6,206.3 543.9,206.3 544.2,206.3 544.4,206.5 544.7,206.7 545.0,206.8 545.3,206.9 545.6,207.1 545.8,207.0 546.1,206.9 546.4,206.7 546.7,206.6 547.0,206.3 547.2,206.1 547.5,206.2 547.8,206.7 548.1,207.1 548.4,207.2 548.6,207.0 548.9,206.9 549.2,206.9 549.5,207.1 549.8,207.2 550.0,207.2 550.3,206.9 550.6,206.7 550.9,206.5 551.1,206.4 551.4,206.3 551.7,206.4 552.0,206.7 552.3,206.9 552.5,207.0 552.8,206.9 553.1,206.8 553.4,206.7 553.7,206.4 553.9,206.2 554.2,206.2 554.5,206.3 554.8,206.5 555.1,206.7 555.3,206.8 555.6,207.0 555.9,207.1 556.2,207.1 556.5,207.1 556.7,207.1 557.0,207.2 557.3,207.3 557.6,207.2 557.9,206.9 558.1,206.5 558.4,206.4 558.7,206.6 559.0,206.7 559.3,206.8 559.5,206.6 559.8,206.3 560.1,206.2 560.4,206.2 560.7,206.2 560.9,206.3 561.2,206.5 561.5,206.7 561.8,206.8 562.0,206.8 562.3,206.8 562.6,206.7 562.9,206.6 563.2,206.4 563.4,206.3 563.7,206.4 564.0,206.5 564.3,206.5 564.6,206.5 564.8,206.5 565.1,206.5 565.4,206.8 565.7,207.0 566.0,207.2 566.2,206.8 566.5,206.5 566.8,206.3 567.1,206.5 567.4,206.7 567.6,207.0 567.9,207.1 568.2,207.3 568.5,207.4 568.8,207.2 569.0,207.0 569.3,206.8 569.6,206.7 569.9,206.5 570.2,206.4 570.4,206.2 570.7,206.0 571.0,205.8 571.3,206.1 571.6,206.4 571.8,206.7 572.1,206.9 572.4,207.0 572.7,207.1 572.9,206.6 573.2,206.2 573.5,205.8 573.8,206.0 574.1,206.3 574.3,206.5 574.6,206.6 574.9,206.6 575.2,206.7 575.5,206.8 575.7,206.9 576.0,207.0 576.3,207.0 576.6,207.0 576.9,207.0 577.1,206.7 577.4,206.3 577.7,206.0 577.7,209.3" fill="#b9c2f6" fill-opacity="0.9"/>
<polyline points="410.0,209.3 410.3,206.7 410.6,207.0 410.8,207.3 411.1,207.2 411.4,207.1 411.7,207.0 412.0,206.8 412.2,206.7 412.5,206.5 412.8,206.4 413.1,206.3 413.4,206.2 413.6,206.4 413.9,206.6 414.2,206.8 414.5,206.8 414.8,206.7 415.0,206.7 415.3,206.8 415.6,207.0 415.9,207.1 416.1,206.7 416.4,206.2 416.7,205.7 417.0,205.8 417.3,206.1 417.5,206.4 417.8,206.4 418.1,206.3 418.4,206.2 418.7,206.3 418.9,206.3 419.2,206.3 419.5,206.3 419.8,206.3 420.1,206.2 420.3,206.3 420.6,206.3 420.9,206.3 421.2,206.4 421.5,206.6 421.7,206.7 422.0,206.6 422.3,206.5 422.6,206.3 422.9,206.4 423.1,206.4 423.4,206.5 423.7,206.4 424.0,206.3 424.3,206.1 424.5,206.3 424.8,206.5 425.1,206.8 425.4,206.9 425.7,206.8 425.9,206.8 426.2,206.7 426.5,206.5 426.8,206.4 427.0,206.3 427.3,206.2 427.6,206.1 427.9,206.2 428.2,206.3 428.4,206.5 428.7,206.6 429.0,206.7 429.3,206.8 429.6,206.8 429.8,206.7 430.1,206.7 430.4,206.7 430.7,206.7 431.0,206.8 431.2,206.6 431.5,206.3 431.8,206.0 432.1,205.9 432.4,206.0 432.6,206.2 432.9,206.2 433.2,206.2 433.5,206.1 433.8,206.2 434.0,206.3 434.3,206.4 434.6,206.5 434.9,206.6 435.2,206.7 435.4,206.7 435.7,206.4 436.0,206.2 436.3,206.1 436.6,206.0 436.8,206.0 437.1,206.0 437.4,206.1 437.7,206.3 437.9,206.4 438.2,206.5 438.5,206.5 438.8,206.5 439.1,206.4 439.3,206.2 439.6,206.2 439.9,206.4 440.2,206.6 440.5,206.6 440.7,206.5 441.0,206.4 441.3,206.4 441.6,206.5 441.9,206.7 442.1,206.9 442.4,206.9 442.7,206.9 443.0,206.9 443.3,206.7 443.5,206.5 443.8,206.4 444.1,206.4 444.4,206.4 444.7,206.3 444.9,206.1 445.2,205.9 445.5,205.9 445.8,206.2 446.1,206.5 446.3,206.6 446.6,206.6 446.9,206.6 447.2,206.6 447.5,206.7 447.7,206.9 448.0,207.0 448.3,207.1 448.6,207.2 448.9,207.2 449.1,207.2 449.4,207.2 449.7,207.1 450.0,206.8 450.2,206.5 450.5,206.4 450.8,206.6 451.1,206.8 451.4,206.8 451.6,206.5 451.9,206.2 452.2,206.0 452.5,205.9 452.8,205.9 453.0,205.9 453.3,206.0 453.6,206.2 453.9,206.3 454.2,206.0 454.4,205.7 454.7,205.5 455.0,205.5 455.3,205.6 455.6,205.6 455.8,205.2 456.1,204.7 456.4,204.1 456.7,203.4 457.0,202.0 457.2,199.0 457.5,190.8 457.8,164.7 458.1,113.2 458.4,164.9 458.6,191.1 458.9,199.2 459.2,202.2 459.5,203.6 459.8,204.3 460.0,205.0 460.3,205.5 460.6,205.8 460.9,206.0 461.1,206.1 461.4,206.1 461.7,206.1 462.0,206.0 462.3,206.0 462.5,206.1 462.8,206.2 463.1,206.3 463.4,206.3 463.7,206.4 463.9,206.4 464.2,206.4 464.5,206.3 464.8,206.2 465.1,206.2 465.3,206.2 465.6,206.2 465.9,206.5 466.2,206.7 466.5,207.0 466.7,206.8 467.0,206.5 467.3,206.3 467.6,206.3 467.9,206.3 468.1,206.3 468.4,206.4 468.7,206.6 469.0,206.8 469.3,206.7 469.5,206.5 469.8,206.4 470.1,206.6 470.4,206.8 470.7,207.0 470.9,206.7 471.2,206.4 471.5,206.0 471.8,206.2 472.0,206.4 472.3,206.6 472.6,206.6 472.9,206.6 473.2,206.6 473.4,206.4 473.7,206.3 474.0,206.1 474.3,206.2 474.6,206.4 474.8,206.6 475.1,206.5 475.4,206.4 475.7,206.3 476.0,206.5 476.2,206.7 476.5,206.9 476.8,206.8 477.1,206.8 477.4,206.7 477.6,206.7 477.9,206.8 478.2,206.9 478.5,206.7 478.8,206.5 479.0,206.3 479.3,206.0 479.6,205.6 479.9,205.0 480.2,204.2 480.4,202.1 480.7,195.1 481.0,181.1 481.3,195.0 481.6,202.0 481.8,204.3 482.1,205.4 482.4,206.1 482.7,206.4 482.9,206.5 483.2,206.6 483.5,206.6 483.8,206.6 484.1,206.6 484.3,206.5 484.6,206.4 484.9,206.3 485.2,206.3 485.5,206.3 485.7,206.4 486.0,206.4 486.3,206.5 486.6,206.5 486.9,206.5 487.1,206.4 487.4,206.3 487.7,206.4 488.0,206.5 488.3,206.6 488.5,206.6 488.8,206.6 489.1,206.6 489.4,206.5 489.7,206.3 489.9,206.1 490.2,206.2 490.5,206.4 490.8,206.7 491.1,206.7 491.3,206.6 491.6,206.5 491.9,206.4 492.2,206.2 492.5,206.0 492.7,206.0 493.0,206.2 493.3,206.4 493.6,206.5 493.9,206.4 494.1,206.3 494.4,206.4 494.7,206.6 495.0,206.7 495.2,206.7 495.5,206.3 495.8,206.0 496.1,206.1 496.4,206.6 496.6,207.2 496.9,207.4 497.2,207.2 497.5,207.1 497.8,207.0 498.0,207.0 498.3,207.0 498.6,206.8 498.9,206.5 499.2,206.2 499.4,206.0 499.7,206.2 500.0,206.3 500.3,206.5 500.6,206.6 500.8,206.6 501.1,206.7 501.4,206.9 501.7,207.0 502.0,207.0 502.2,206.8 502.5,206.6 502.8,206.5 503.1,206.5 503.4,206.5 503.6,206.6 503.9,206.7 504.2,206.8 504.5,206.9 504.8,207.0 505.0,207.1 505.3,207.2 505.6,207.1 505.9,207.1 506.1,207.0 506.4,206.8 506.7,206.6 507.0,206.5 507.3,206.5 507.5,206.5 507.8,206.5 508.1,206.5 508.4,206.5 508.7,206.6 508.9,206.6 509.2,206.6 509.5,206.7 509.8,206.9 510.1,207.1 510.3,207.2 510.6,207.0 510.9,206.8 511.2,206.6 511.5,206.7 511.7,206.9 512.0,207.0 512.3,206.8 512.6,206.7 512.9,206.6 513.1,206.5 513.4,206.5 513.7,206.4 514.0,206.6 514.3,206.7 514.5,206.9 514.8,206.9 515.1,206.9 515.4,207.0 515.7,206.7 515.9,206.4 516.2,206.2 516.5,206.3 516.8,206.4 517.0,206.5 517.3,206.6 517.6,206.7 517.9,206.9 518.2,207.2 518.4,207.5 518.7,207.7 519.0,207.4 519.3,207.0 519.6,206.6 519.8,206.5 520.1,206.4 520.4,206.3 520.7,206.3 521.0,206.2 521.2,206.2 521.5,206.4 521.8,206.6 522.1,206.9 522.4,206.8 522.6,206.8 522.9,206.8 523.2,206.8 523.5,206.8 523.8,206.8 524.0,206.6 524.3,206.4 524.6,206.3 524.9,206.5 525.2,206.8 525.4,207.0 525.7,206.9 526.0,206.8 526.3,206.6 526.6,206.7 526.8,206.8 527.1,206.9 527.4,206.8 527.7,206.7 527.9,206.5 528.2,206.7 528.5,206.9 528.8,207.2 529.1,207.0 529.3,206.7 529.6,206.5 529.9,206.5 530.2,206.7 530.5,206.8 530.7,206.8 531.0,206.7 531.3,206.7 531.6,206.6 531.9,206.5 532.1,206.4 532.4,206.3 532.7,206.2 533.0,206.2 533.3,206.4 533.5,206.8 533.8,207.2 534.1,207.0 534.4,206.6 534.7,206.3 534.9,206.2 535.2,206.3 535.5,206.4 535.8,206.5 536.1,206.6 536.3,206.7 536.6,206.5 536.9,206.3 537.2,206.1 537.5,206.2 537.7,206.3 538.0,206.5 538.3,206.4 538.6,206.3 538.8,206.1 539.1,206.3 539.4,206.5 539.7,206.7 540.0,206.8 540.2,206.9 540.5,206.9 540.8,206.7 541.1,206.5 541.4,206.2 541.6,206.0 541.9,205.9 542.2,205.8 542.5,205.9 542.8,206.1 543.0,206.3 543.3,206.3 543.6,206.3 543.9,206.3 544.2,206.3 544.4,206.5 544.7,206.7 545.0,206.8 545.3,206.9 545.6,207.1 545.8,207.0 546.1,206.9 546.4,206.7 546.7,206.6 547.0,206.3 547.2,206.1 547.5,206.2 547.8,206.7 548.1,207.1 548.4,207.2 548.6,207.0 548.9,206.9 549.2,206.9 549.5,207.1 549.8,207.2 550.0,207.2 550.3,206.9 550.6,206.7 550.9,206.5 551.1,206.4 551.4,206.3 551.7,206.4 552.0,206.7 552.3,206.9 552.5,207.0 552.8,206.9 553.1,206.8 553.4,206.7 553.7,206.4 553.9,206.2 554.2,206.2 554.5,206.3 554.8,206.5 555.1,206.7 555.3,206.8 555.6,207.0 555.9,207.1 556.2,207.1 556.5,207.1 556.7,207.1 557.0,207.2 557.3,207.3 557.6,207.2 557.9,206.9 558.1,206.5 558.4,206.4 558.7,206.6 559.0,206.7 559.3,206.8 559.5,206.6 559.8,206.3 560.1,206.2 560.4,206.2 560.7,206.2 560.9,206.3 561.2,206.5 561.5,206.7 561.8,206.8 562.0,206.8 562.3,206.8 562.6,206.7 562.9,206.6 563.2,206.4 563.4,206.3 563.7,206.4 564.0,206.5 564.3,206.5 564.6,206.5 564.8,206.5 565.1,206.5 565.4,206.8 565.7,207.0 566.0,207.2 566.2,206.8 566.5,206.5 566.8,206.3 567.1,206.5 567.4,206.7 567.6,207.0 567.9,207.1 568.2,207.3 568.5,207.4 568.8,207.2 569.0,207.0 569.3,206.8 569.6,206.7 569.9,206.5 570.2,206.4 570.4,206.2 570.7,206.0 571.0,205.8 571.3,206.1 571.6,206.4 571.8,206.7 572.1,206.9 572.4,207.0 572.7,207.1 572.9,206.6 573.2,206.2 573.5,205.8 573.8,206.0 574.1,206.3 574.3,206.5 574.6,206.6 574.9,206.6 575.2,206.7 575.5,206.8 575.7,206.9 576.0,207.0 576.3,207.0 576.6,207.0 576.9,207.0 577.1,206.7 577.4,206.3 577.7,206.0" fill="none" stroke="#2a3ce8" stroke-width="1.0" stroke-linejoin="round"/>
<polygon points="358.1,264.3 358.1,264.3 358.4,263.3 358.7,263.3 358.9,263.3 359.2,263.3 359.5,263.3 359.8,263.3 360.1,263.3 360.3,263.3 360.6,263.2 360.9,263.3 361.2,263.3 361.5,263.3 361.7,263.3 362.0,263.3 362.3,263.3 362.6,263.3 362.9,263.3 363.1,263.3 363.4,263.3 363.7,263.3 364.0,263.3 364.2,263.3 364.5,263.3 364.8,263.4 365.1,263.3 365.4,263.3 365.6,263.3 365.9,263.3 366.2,263.2 366.5,263.2 366.8,263.2 367.0,263.3 367.3,263.3 367.6,263.3 367.9,263.3 368.2,263.4 368.4,263.4 368.7,263.4 369.0,263.4 369.3,263.4 369.6,263.3 369.8,263.3 370.1,263.3 370.4,263.3 370.7,263.3 371.0,263.3 371.2,263.3 371.5,263.3 371.8,263.3 372.1,263.3 372.4,263.3 372.6,263.3 372.9,263.4 373.2,263.4 373.5,263.4 373.8,263.3 374.0,263.3 374.3,263.3 374.6,263.3 374.9,263.3 375.1,263.3 375.4,263.3 375.7,263.3 376.0,263.3 376.3,263.3 376.5,263.3 376.8,263.3 377.1,263.3 377.4,263.3 377.7,263.3 377.9,263.3 378.2,263.3 378.5,263.3 378.8,263.3 379.1,263.3 379.3,263.3 379.6,263.3 379.9,263.2 380.2,263.3 380.5,263.3 380.7,263.3 381.0,263.3 381.3,263.3 381.6,263.3 381.9,263.4 382.1,263.4 382.4,263.4 382.7,263.4 383.0,263.3 383.3,263.3 383.5,263.3 383.8,263.3 384.1,263.3 384.4,263.4 384.7,263.3 384.9,263.3 385.2,263.3 385.5,263.3 385.8,263.3 386.0,263.3 386.3,263.3 386.6,263.3 386.9,263.3 387.2,263.3 387.4,263.2 387.7,263.2 388.0,263.3 388.3,263.3 388.6,263.3 388.8,263.3 389.1,263.3 389.4,263.3 389.7,263.3 390.0,263.3 390.2,263.3 390.5,263.3 390.8,263.3 391.1,263.3 391.4,263.3 391.6,263.3 391.9,263.2 392.2,263.3 392.5,263.3 392.8,263.3 393.0,263.3 393.3,263.3 393.6,263.3 393.9,263.3 394.2,263.2 394.4,263.2 394.7,263.2 395.0,263.2 395.3,263.3 395.6,263.3 395.8,263.3 396.1,263.3 396.4,263.3 396.7,263.3 397.0,263.3 397.2,263.3 397.5,263.2 397.8,263.2 398.1,263.2 398.3,263.2 398.6,263.2 398.9,263.2 399.2,263.2 399.5,263.2 399.7,263.2 400.0,263.2 400.3,263.2 400.6,263.2 400.9,263.1 401.1,263.1 401.4,263.1 401.7,263.0 402.0,263.0 402.3,262.9 402.5,262.8 402.8,262.8 403.1,262.7 403.4,262.5 403.7,262.4 403.9,262.1 404.2,261.8 404.5,261.2 404.8,260.3 405.1,258.7 405.3,255.4 405.6,247.2 405.9,220.4 406.2,167.4 406.5,220.4 406.7,247.1 407.0,255.4 407.3,258.7 407.6,260.3 407.9,261.2 408.1,261.8 408.4,262.1 408.7,262.3 409.0,262.5 409.2,262.6 409.5,262.7 409.8,262.8 410.1,262.9 410.4,262.9 410.6,263.0 410.9,263.0 411.2,263.1 411.5,263.1 411.8,263.1 412.0,263.1 412.3,263.2 412.6,263.2 412.9,263.2 413.2,263.2 413.4,263.2 413.7,263.2 414.0,263.2 414.3,263.3 414.6,263.3 414.8,263.3 415.1,263.3 415.4,263.3 415.7,263.3 416.0,263.3 416.2,263.3 416.5,263.3 416.8,263.2 417.1,263.2 417.4,263.2 417.6,263.2 417.9,263.3 418.2,263.3 418.5,263.3 418.8,263.3 419.0,263.3 419.3,263.3 419.6,263.4 419.9,263.3 420.1,263.3 420.4,263.3 420.7,263.3 421.0,263.3 421.3,263.3 421.5,263.3 421.8,263.3 422.1,263.3 422.4,263.3 422.7,263.3 422.9,263.3 423.2,263.3 423.5,263.3 423.8,263.3 424.1,263.3 424.3,263.3 424.6,263.3 424.9,263.3 425.2,263.3 425.5,263.2 425.7,263.3 426.0,263.3 426.3,263.4 426.6,263.3 426.9,263.3 427.1,263.3 427.4,263.3 427.7,263.2 428.0,263.2 428.3,263.2 428.5,263.2 428.8,263.3 429.1,263.3 429.4,263.3 429.7,263.3 429.9,263.3 430.2,263.3 430.5,263.3 430.8,263.3 431.0,263.3 431.3,263.3 431.6,263.3 431.9,263.3 432.2,263.3 432.4,263.3 432.7,263.3 433.0,263.2 433.3,263.2 433.6,263.2 433.8,263.2 434.1,263.2 434.4,263.3 434.7,263.4 435.0,263.4 435.2,263.3 435.5,263.3 435.8,263.2 436.1,263.2 436.4,263.2 436.6,263.2 436.9,263.3 437.2,263.3 437.5,263.3 437.8,263.3 438.0,263.3 438.3,263.3 438.6,263.3 438.9,263.2 439.2,263.2 439.4,263.3 439.7,263.3 440.0,263.3 440.3,263.3 440.6,263.3 440.8,263.3 441.1,263.3 441.4,263.3 441.7,263.3 441.9,263.4 442.2,263.4 442.5,263.4 442.8,263.4 443.1,263.3 443.3,263.3 443.6,263.3 443.9,263.3 444.2,263.3 444.5,263.3 444.7,263.3 445.0,263.2 445.3,263.2 445.6,263.2 445.9,263.2 446.1,263.2 446.4,263.3 446.7,263.3 447.0,263.3 447.3,263.3 447.5,263.3 447.8,263.3 448.1,263.3 448.4,263.3 448.7,263.3 448.9,263.3 449.2,263.3 449.5,263.3 449.8,263.3 450.1,263.3 450.3,263.3 450.6,263.4 450.9,263.4 451.2,263.4 451.5,263.4 451.7,263.4 452.0,263.4 452.3,263.4 452.6,263.4 452.9,263.4 453.1,263.3 453.4,263.3 453.7,263.3 454.0,263.3 454.2,263.3 454.5,263.3 454.8,263.3 455.1,263.3 455.4,263.3 455.6,263.3 455.9,263.3 456.2,263.3 456.5,263.3 456.8,263.3 457.0,263.3 457.3,263.4 457.6,263.4 457.9,263.3 458.2,263.3 458.4,263.3 458.7,263.3 459.0,263.3 459.3,263.3 459.6,263.3 459.8,263.3 460.1,263.2 460.4,263.3 460.7,263.3 461.0,263.3 461.2,263.3 461.5,263.3 461.8,263.4 462.1,263.4 462.4,263.3 462.6,263.3 462.9,263.3 463.2,263.3 463.5,263.2 463.8,263.3 464.0,263.3 464.3,263.3 464.6,263.3 464.9,263.3 465.1,263.3 465.4,263.3 465.7,263.3 466.0,263.3 466.3,263.2 466.5,263.2 466.8,263.2 467.1,263.3 467.4,263.3 467.7,263.4 467.9,263.4 468.2,263.4 468.5,263.4 468.8,263.4 469.1,263.4 469.3,263.4 469.6,263.4 469.9,263.3 470.2,263.3 470.5,263.3 470.7,263.3 471.0,263.3 471.3,263.3 471.6,263.3 471.9,263.3 472.1,263.3 472.4,263.4 472.7,263.4 473.0,263.3 473.3,263.3 473.5,263.3 473.8,263.3 474.1,263.3 474.4,263.3 474.7,263.3 474.9,263.3 475.2,263.3 475.5,263.3 475.8,263.3 476.0,263.2 476.3,263.3 476.6,263.3 476.9,263.4 477.2,263.4 477.4,263.4 477.7,263.4 478.0,263.3 478.3,263.2 478.6,263.2 478.8,263.2 479.1,263.3 479.4,263.3 479.7,263.3 480.0,263.3 480.2,263.3 480.5,263.3 480.8,263.3 481.1,263.4 481.4,263.3 481.6,263.3 481.9,263.3 482.2,263.3 482.5,263.3 482.8,263.3 483.0,263.3 483.3,263.3 483.6,263.3 483.9,263.3 484.2,263.3 484.4,263.3 484.7,263.3 485.0,263.3 485.3,263.3 485.6,263.3 485.8,263.4 486.1,263.4 486.4,263.4 486.7,263.3 486.9,263.3 487.2,263.3 487.5,263.3 487.8,263.2 488.1,263.2 488.3,263.2 488.6,263.2 488.9,263.3 489.2,263.3 489.5,263.3 489.7,263.3 490.0,263.3 490.3,263.3 490.6,263.3 490.9,263.3 491.1,263.3 491.4,263.3 491.7,263.3 492.0,263.3 492.3,263.3 492.5,263.3 492.8,263.4 493.1,263.4 493.4,263.4 493.7,263.3 493.9,263.3 494.2,263.3 494.5,263.3 494.8,263.3 495.1,263.3 495.3,263.3 495.6,263.3 495.9,263.3 496.2,263.3 496.5,263.3 496.7,263.2 497.0,263.2 497.3,263.2 497.6,263.2 497.9,263.2 498.1,263.2 498.4,263.3 498.7,263.3 499.0,263.3 499.2,263.3 499.5,263.3 499.8,263.4 500.1,263.3 500.4,263.3 500.6,263.4 500.9,263.4 501.2,263.4 501.5,263.4 501.8,263.3 502.0,263.3 502.3,263.3 502.6,263.3 502.9,263.3 503.2,263.3 503.4,263.3 503.7,263.3 504.0,263.3 504.3,263.3 504.6,263.3 504.8,263.3 505.1,263.3 505.4,263.3 505.7,263.3 506.0,263.3 506.2,263.3 506.5,263.3 506.8,263.3 507.1,263.3 507.4,263.3 507.6,263.3 507.9,263.2 508.2,263.2 508.5,263.2 508.8,263.2 509.0,263.3 509.3,263.3 509.6,263.3 509.9,263.4 510.1,263.4 510.4,263.4 510.7,263.4 511.0,263.4 511.3,263.3 511.5,263.3 511.8,263.3 512.1,263.3 512.4,263.3 512.7,263.3 512.9,263.3 513.2,263.2 513.5,263.2 513.8,263.2 514.1,263.2 514.3,263.2 514.6,263.2 514.9,263.2 515.2,263.2 515.5,263.2 515.7,263.2 516.0,263.2 516.3,263.2 516.6,263.2 516.9,263.3 517.1,263.3 517.4,263.3 517.7,263.3 518.0,263.3 518.3,263.3 518.5,263.3 518.8,263.3 519.1,263.3 519.4,263.4 519.7,263.4 519.9,263.4 520.2,263.4 520.5,263.3 520.8,263.3 521.0,263.3 521.3,263.2 521.6,263.2 521.9,263.3 522.2,263.3 522.4,263.3 522.7,263.3 523.0,263.3 523.3,263.3 523.6,263.3 523.8,263.3 524.1,263.3 524.4,263.3 524.7,263.3 525.0,263.3 525.2,263.3 525.5,263.3 525.8,263.3 525.8,264.3" fill="#bcdcfa" fill-opacity="0.9"/>
<polyline points="358.1,264.3 358.4,263.3 358.7,263.3 358.9,263.3 359.2,263.3 359.5,263.3 359.8,263.3 360.1,263.3 360.3,263.3 360.6,263.2 360.9,263.3 361.2,263.3 361.5,263.3 361.7,263.3 362.0,263.3 362.3,263.3 362.6,263.3 362.9,263.3 363.1,263.3 363.4,263.3 363.7,263.3 364.0,263.3 364.2,263.3 364.5,263.3 364.8,263.4 365.1,263.3 365.4,263.3 365.6,263.3 365.9,263.3 366.2,263.2 366.5,263.2 366.8,263.2 367.0,263.3 367.3,263.3 367.6,263.3 367.9,263.3 368.2,263.4 368.4,263.4 368.7,263.4 369.0,263.4 369.3,263.4 369.6,263.3 369.8,263.3 370.1,263.3 370.4,263.3 370.7,263.3 371.0,263.3 371.2,263.3 371.5,263.3 371.8,263.3 372.1,263.3 372.4,263.3 372.6,263.3 372.9,263.4 373.2,263.4 373.5,263.4 373.8,263.3 374.0,263.3 374.3,263.3 374.6,263.3 374.9,263.3 375.1,263.3 375.4,263.3 375.7,263.3 376.0,263.3 376.3,263.3 376.5,263.3 376.8,263.3 377.1,263.3 377.4,263.3 377.7,263.3 377.9,263.3 378.2,263.3 378.5,263.3 378.8,263.3 379.1,263.3 379.3,263.3 379.6,263.3 379.9,263.2 380.2,263.3 380.5,263.3 380.7,263.3 381.0,263.3 381.3,263.3 381.6,263.3 381.9,263.4 382.1,263.4 382.4,263.4 382.7,263.4 383.0,263.3 383.3,263.3 383.5,263.3 383.8,263.3 384.1,263.3 384.4,263.4 384.7,263.3 384.9,263.3 385.2,263.3 385.5,263.3 385.8,263.3 386.0,263.3 386.3,263.3 386.6,263.3 386.9,263.3 387.2,263.3 387.4,263.2 387.7,263.2 388.0,263.3 388.3,263.3 388.6,263.3 388.8,263.3 389.1,263.3 389.4,263.3 389.7,263.3 390.0,263.3 390.2,263.3 390.5,263.3 390.8,263.3 391.1,263.3 391.4,263.3 391.6,263.3 391.9,263.2 392.2,263.3 392.5,263.3 392.8,263.3 393.0,263.3 393.3,263.3 393.6,263.3 393.9,263.3 394.2,263.2 394.4,263.2 394.7,263.2 395.0,263.2 395.3,263.3 395.6,263.3 395.8,263.3 396.1,263.3 396.4,263.3 396.7,263.3 397.0,263.3 397.2,263.3 397.5,263.2 397.8,263.2 398.1,263.2 398.3,263.2 398.6,263.2 398.9,263.2 399.2,263.2 399.5,263.2 399.7,263.2 400.0,263.2 400.3,263.2 400.6,263.2 400.9,263.1 401.1,263.1 401.4,263.1 401.7,263.0 402.0,263.0 402.3,262.9 402.5,262.8 402.8,262.8 403.1,262.7 403.4,262.5 403.7,262.4 403.9,262.1 404.2,261.8 404.5,261.2 404.8,260.3 405.1,258.7 405.3,255.4 405.6,247.2 405.9,220.4 406.2,167.4 406.5,220.4 406.7,247.1 407.0,255.4 407.3,258.7 407.6,260.3 407.9,261.2 408.1,261.8 408.4,262.1 408.7,262.3 409.0,262.5 409.2,262.6 409.5,262.7 409.8,262.8 410.1,262.9 410.4,262.9 410.6,263.0 410.9,263.0 411.2,263.1 411.5,263.1 411.8,263.1 412.0,263.1 412.3,263.2 412.6,263.2 412.9,263.2 413.2,263.2 413.4,263.2 413.7,263.2 414.0,263.2 414.3,263.3 414.6,263.3 414.8,263.3 415.1,263.3 415.4,263.3 415.7,263.3 416.0,263.3 416.2,263.3 416.5,263.3 416.8,263.2 417.1,263.2 417.4,263.2 417.6,263.2 417.9,263.3 418.2,263.3 418.5,263.3 418.8,263.3 419.0,263.3 419.3,263.3 419.6,263.4 419.9,263.3 420.1,263.3 420.4,263.3 420.7,263.3 421.0,263.3 421.3,263.3 421.5,263.3 421.8,263.3 422.1,263.3 422.4,263.3 422.7,263.3 422.9,263.3 423.2,263.3 423.5,263.3 423.8,263.3 424.1,263.3 424.3,263.3 424.6,263.3 424.9,263.3 425.2,263.3 425.5,263.2 425.7,263.3 426.0,263.3 426.3,263.4 426.6,263.3 426.9,263.3 427.1,263.3 427.4,263.3 427.7,263.2 428.0,263.2 428.3,263.2 428.5,263.2 428.8,263.3 429.1,263.3 429.4,263.3 429.7,263.3 429.9,263.3 430.2,263.3 430.5,263.3 430.8,263.3 431.0,263.3 431.3,263.3 431.6,263.3 431.9,263.3 432.2,263.3 432.4,263.3 432.7,263.3 433.0,263.2 433.3,263.2 433.6,263.2 433.8,263.2 434.1,263.2 434.4,263.3 434.7,263.4 435.0,263.4 435.2,263.3 435.5,263.3 435.8,263.2 436.1,263.2 436.4,263.2 436.6,263.2 436.9,263.3 437.2,263.3 437.5,263.3 437.8,263.3 438.0,263.3 438.3,263.3 438.6,263.3 438.9,263.2 439.2,263.2 439.4,263.3 439.7,263.3 440.0,263.3 440.3,263.3 440.6,263.3 440.8,263.3 441.1,263.3 441.4,263.3 441.7,263.3 441.9,263.4 442.2,263.4 442.5,263.4 442.8,263.4 443.1,263.3 443.3,263.3 443.6,263.3 443.9,263.3 444.2,263.3 444.5,263.3 444.7,263.3 445.0,263.2 445.3,263.2 445.6,263.2 445.9,263.2 446.1,263.2 446.4,263.3 446.7,263.3 447.0,263.3 447.3,263.3 447.5,263.3 447.8,263.3 448.1,263.3 448.4,263.3 448.7,263.3 448.9,263.3 449.2,263.3 449.5,263.3 449.8,263.3 450.1,263.3 450.3,263.3 450.6,263.4 450.9,263.4 451.2,263.4 451.5,263.4 451.7,263.4 452.0,263.4 452.3,263.4 452.6,263.4 452.9,263.4 453.1,263.3 453.4,263.3 453.7,263.3 454.0,263.3 454.2,263.3 454.5,263.3 454.8,263.3 455.1,263.3 455.4,263.3 455.6,263.3 455.9,263.3 456.2,263.3 456.5,263.3 456.8,263.3 457.0,263.3 457.3,263.4 457.6,263.4 457.9,263.3 458.2,263.3 458.4,263.3 458.7,263.3 459.0,263.3 459.3,263.3 459.6,263.3 459.8,263.3 460.1,263.2 460.4,263.3 460.7,263.3 461.0,263.3 461.2,263.3 461.5,263.3 461.8,263.4 462.1,263.4 462.4,263.3 462.6,263.3 462.9,263.3 463.2,263.3 463.5,263.2 463.8,263.3 464.0,263.3 464.3,263.3 464.6,263.3 464.9,263.3 465.1,263.3 465.4,263.3 465.7,263.3 466.0,263.3 466.3,263.2 466.5,263.2 466.8,263.2 467.1,263.3 467.4,263.3 467.7,263.4 467.9,263.4 468.2,263.4 468.5,263.4 468.8,263.4 469.1,263.4 469.3,263.4 469.6,263.4 469.9,263.3 470.2,263.3 470.5,263.3 470.7,263.3 471.0,263.3 471.3,263.3 471.6,263.3 471.9,263.3 472.1,263.3 472.4,263.4 472.7,263.4 473.0,263.3 473.3,263.3 473.5,263.3 473.8,263.3 474.1,263.3 474.4,263.3 474.7,263.3 474.9,263.3 475.2,263.3 475.5,263.3 475.8,263.3 476.0,263.2 476.3,263.3 476.6,263.3 476.9,263.4 477.2,263.4 477.4,263.4 477.7,263.4 478.0,263.3 478.3,263.2 478.6,263.2 478.8,263.2 479.1,263.3 479.4,263.3 479.7,263.3 480.0,263.3 480.2,263.3 480.5,263.3 480.8,263.3 481.1,263.4 481.4,263.3 481.6,263.3 481.9,263.3 482.2,263.3 482.5,263.3 482.8,263.3 483.0,263.3 483.3,263.3 483.6,263.3 483.9,263.3 484.2,263.3 484.4,263.3 484.7,263.3 485.0,263.3 485.3,263.3 485.6,263.3 485.8,263.4 486.1,263.4 486.4,263.4 486.7,263.3 486.9,263.3 487.2,263.3 487.5,263.3 487.8,263.2 488.1,263.2 488.3,263.2 488.6,263.2 488.9,263.3 489.2,263.3 489.5,263.3 489.7,263.3 490.0,263.3 490.3,263.3 490.6,263.3 490.9,263.3 491.1,263.3 491.4,263.3 491.7,263.3 492.0,263.3 492.3,263.3 492.5,263.3 492.8,263.4 493.1,263.4 493.4,263.4 493.7,263.3 493.9,263.3 494.2,263.3 494.5,263.3 494.8,263.3 495.1,263.3 495.3,263.3 495.6,263.3 495.9,263.3 496.2,263.3 496.5,263.3 496.7,263.2 497.0,263.2 497.3,263.2 497.6,263.2 497.9,263.2 498.1,263.2 498.4,263.3 498.7,263.3 499.0,263.3 499.2,263.3 499.5,263.3 499.8,263.4 500.1,263.3 500.4,263.3 500.6,263.4 500.9,263.4 501.2,263.4 501.5,263.4 501.8,263.3 502.0,263.3 502.3,263.3 502.6,263.3 502.9,263.3 503.2,263.3 503.4,263.3 503.7,263.3 504.0,263.3 504.3,263.3 504.6,263.3 504.8,263.3 505.1,263.3 505.4,263.3 505.7,263.3 506.0,263.3 506.2,263.3 506.5,263.3 506.8,263.3 507.1,263.3 507.4,263.3 507.6,263.3 507.9,263.2 508.2,263.2 508.5,263.2 508.8,263.2 509.0,263.3 509.3,263.3 509.6,263.3 509.9,263.4 510.1,263.4 510.4,263.4 510.7,263.4 511.0,263.4 511.3,263.3 511.5,263.3 511.8,263.3 512.1,263.3 512.4,263.3 512.7,263.3 512.9,263.3 513.2,263.2 513.5,263.2 513.8,263.2 514.1,263.2 514.3,263.2 514.6,263.2 514.9,263.2 515.2,263.2 515.5,263.2 515.7,263.2 516.0,263.2 516.3,263.2 516.6,263.2 516.9,263.3 517.1,263.3 517.4,263.3 517.7,263.3 518.0,263.3 518.3,263.3 518.5,263.3 518.8,263.3 519.1,263.3 519.4,263.4 519.7,263.4 519.9,263.4 520.2,263.4 520.5,263.3 520.8,263.3 521.0,263.3 521.3,263.2 521.6,263.2 521.9,263.3 522.2,263.3 522.4,263.3 522.7,263.3 523.0,263.3 523.3,263.3 523.6,263.3 523.8,263.3 524.1,263.3 524.4,263.3 524.7,263.3 525.0,263.3 525.2,263.3 525.5,263.3 525.8,263.3" fill="none" stroke="#2a8ff0" stroke-width="1.2" stroke-linejoin="round"/>
<line x1="629.3" y1="154.7" x2="634.9" y2="154.7" stroke="#777" stroke-width="0.7"/>
<text x="640.9" y="159.6" font-size="13" fill="#111">44</text>
<text x="619.7" y="149.2" font-size="13" fill="#111">A</text>
<line x1="577.7" y1="209.3" x2="583.3" y2="209.3" stroke="#777" stroke-width="0.7"/>
<text x="589.3" y="214.2" font-size="13" fill="#111">66</text>
<text x="568.9" y="201.0" font-size="13" fill="#111">B</text>
<line x1="525.8" y1="264.3" x2="531.4" y2="264.3" stroke="#777" stroke-width="0.7"/>
<text x="537.4" y="269.2" font-size="13" fill="#111">88</text>
<text x="517.2" y="259.3" font-size="13" fill="#111">C</text>
<text transform="translate(574.2,283.4) rotate(-46.5)" font-size="12.5" fill="#111" textLength="139.5" lengthAdjust="spacingAndGlyphs">Pump fluence (µJ cm<tspan dy="-4.2" font-size="8.8">−2</tspan><tspan dy="4.2">)</tspan></text>
</svg></body></html>
